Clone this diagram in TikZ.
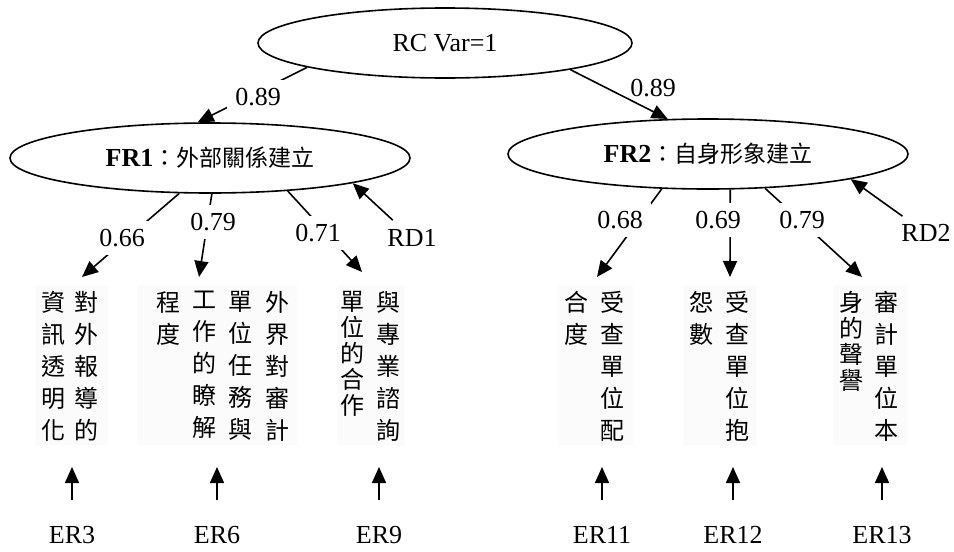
\documentclass[tikz,border=0pt]{standalone}
\usepackage{fontspec}
\setmainfont{Liberation Serif}
\newfontfamily\cjk{Noto Sans CJK TC}
\usetikzlibrary{arrows.meta, shapes.geometric}

\tikzset{
  latent/.style={draw, ellipse, line width=0.8pt, font=\fontsize{13}{15}\selectfont},
  coef/.style={fill=white, inner xsep=4pt, inner ysep=4pt, font=\fontsize{13}{15}\selectfont},
  err/.style={inner sep=1pt, font=\fontsize{13}{15}\selectfont},
  item/.style={anchor=north, align=center, inner sep=0pt, font=\cjk\fontsize{12}{16}\selectfont},
  tight/.style={font=\cjk\fontsize{12}{13}\selectfont},
  itembg/.style={fill=black!1.5},
  arr/.style={-{Triangle[length=8pt,width=7pt]}, line width=0.8pt}
}

\begin{document}
\begin{tikzpicture}[x=0.5pt, y=-0.5pt]
    \useasboundingbox (0,0) rectangle (954,552);

    % Factors
    \node[latent, minimum width=187pt, minimum height=35pt] (rc) at (445,43) {RC Var=1};
    \node[latent, minimum width=200pt, minimum height=35pt] (fr1) at (210,158) {\textbf{FR1}{\cjk\fontsize{11.5}{14}\selectfont ：外部關係建立}};
    \node[latent, minimum width=200pt, minimum height=35pt] (fr2) at (708,154) {\textbf{FR2}{\cjk\fontsize{11.5}{14}\selectfont ：自身形象建立}};

    % Item boxes (vertical text, right to left)
    \fill[itembg] (35,285) rectangle (108,445);
    \fill[itembg] (137,285) rectangle (297,445);
    \fill[itembg] (337,285) rectangle (405,445);
    \fill[itembg] (558,285) rectangle (633,445);
    \fill[itembg] (683,285) rectangle (757,445);
    \fill[itembg] (833,285) rectangle (907,445);

    \node[item] (i3a) at (87,291) {對\\外\\報\\導\\的};
    \node[item] (i3b) at (53,291) {資\\訊\\透\\明\\化};
    \node[item] (i6a) at (277,291) {外\\界\\對\\審\\計};
    \node[item] (i6b) at (240,291) {單\\位\\任\\務\\與};
    \node[item] (i6c) at (204,291) {工\\作\\的\\瞭\\解};
    \node[item] (i6d) at (168,291) {程\\度};
    \node[item] (i9a) at (388,291) {與\\專\\業\\諮\\詢};
    \node[item, tight] (i9b) at (352,291) {單\\位\\的\\合\\作};
    \node[item] (i11a) at (612,291) {受\\查\\單\\位\\配};
    \node[item] (i11b) at (576,291) {合\\度};
    \node[item] (i12a) at (737,291) {受\\查\\單\\位\\抱};
    \node[item] (i12b) at (701,291) {怨\\數};
    \node[item] (i13a) at (886,291) {審\\計\\單\\位\\本};
    \node[item, tight] (i13b) at (851,291) {身\\的\\聲\\譽};

    % Arrow tips above the items
    \coordinate (t3) at (82,277);
    \coordinate (t6) at (199,277);
    \coordinate (t9) at (362,272);
    \coordinate (t11) at (597,277);
    \coordinate (t12) at (730,277);
    \coordinate (t13) at (862,277);

    % Loadings
    \draw[arr] (rc.190) -- (fr1.109);
    \draw[arr] (rc.-12) -- (fr2.139);
    \draw[arr] (fr1.229) -- (t3);
    \draw[arr] (fr1.273) -- (t6);
    \draw[arr] (fr1.-23) -- (t9);
    \draw[arr] (fr2.217) -- (t11);
    \draw[arr] (fr2.-58) -- (t12);
    \draw[arr] (fr2.-31) -- (t13);

    % Coefficients (white boxes cut the lines)
    \node[coef] (c1) at (258,97) {0.89};
    \node[coef, fill=none] (c2) at (653,88) {0.89};
    \node[coef] (c3) at (122,238) {0.66};
    \node[coef] (c6) at (213,222) {0.79};
    \node[coef] (c9) at (318,233) {0.71};
    \node[coef] (c11) at (620,220) {0.68};
    \node[coef] (c12) at (718,220) {0.69};
    \node[coef] (c13) at (802,220) {0.79};

    % Disturbances
    \node[err] (rd1) at (412,238) {RD1};
    \node[err] (rd2) at (926,233) {RD2};
    \draw[arr, shorten <=5pt] (rd1) -- (fr1.-10);
    \draw[arr, shorten <=5pt] (rd2) -- (fr2.-10);

    % Measurement errors
    \node[err] (er3) at (72,535) {ER3};
    \node[err] (er6) at (217,535) {ER6};
    \node[err] (er9) at (379,535) {ER9};
    \node[err] (er11) at (602,535) {ER11};
    \node[err] (er12) at (733,535) {ER12};
    \node[err] (er13) at (882,535) {ER13};

    \coordinate (u3) at (72,467);
    \coordinate (u6) at (217,467);
    \coordinate (u9) at (379,467);
    \coordinate (u11) at (602,467);
    \coordinate (u12) at (733,467);
    \coordinate (u13) at (882,467);

    \draw[arr, shorten <=12pt] (er3.north) -- (u3);
    \draw[arr, shorten <=12pt] (er6.north) -- (u6);
    \draw[arr, shorten <=12pt] (er9.north) -- (u9);
    \draw[arr, shorten <=12pt] (er11.north) -- (u11);
    \draw[arr, shorten <=12pt] (er12.north) -- (u12);
    \draw[arr, shorten <=12pt] (er13.north) -- (u13);
\end{tikzpicture}
\end{document}
